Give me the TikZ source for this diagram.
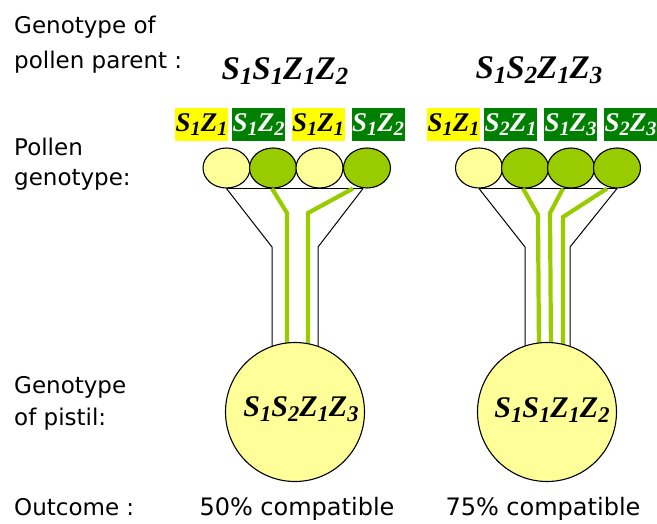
\documentclass[tikz,border=0pt]{standalone}
\usepackage{fontspec}
\setmainfont{DejaVu Sans}
\newfontfamily\genofont{Liberation Serif}
\usetikzlibrary{shapes.geometric}

% genotype symbols: bold italic serif letters with lowered index digits
\newcommand\gsub[1]{\raisebox{-0.35ex}{\scalebox{0.75}{#1}}}
\newcommand\geno[1]{{\genofont\bfseries\itshape #1}}

\definecolor{paleyellow}{HTML}{FFFF99}
\definecolor{limegreen}{HTML}{99CC00}
\definecolor{tagyellow}{HTML}{FFFF00}
\definecolor{taggreen}{HTML}{008000}

\tikzset{
  label/.style={font=\fontsize{23}{23}\selectfont, anchor=base west, inner sep=0pt},
  outcome/.style={font=\fontsize{24}{24}\selectfont, anchor=base, inner sep=0pt},
  parent/.style={font=\fontsize{33}{33}\selectfont, anchor=base, inner sep=0pt},
  allele/.style={minimum width=53pt, minimum height=33pt, inner sep=0pt,
                 font=\fontsize{27}{27}\selectfont},
  ytag/.style={allele, fill=tagyellow, text=black},
  gtag/.style={allele, fill=taggreen, text=white},
  grain/.style={ellipse, draw=black, line width=1.1pt, minimum width=47pt,
                minimum height=40pt, inner sep=0pt},
  ygrain/.style={grain, fill=paleyellow},
  ggrain/.style={grain, fill=limegreen},
  pistil/.style={circle, draw=black, line width=1.1pt, fill=paleyellow,
                 minimum size=139pt, inner sep=0pt},
  funnel/.style={draw=black, line width=1pt},
  tube/.style={draw=limegreen, line width=4.2pt},
  genolabel/.style={font=\fontsize{30}{30}\selectfont, inner sep=0pt}
}

\begin{document}
\begin{tikzpicture}[x=1pt, y=-1pt]
\useasboundingbox (0,0) rectangle (657,523);

% row labels on the left
\node[label] (t1a) at (14,33) {Genotype of};
\node[label] (t1b) at (14,68) {pollen parent :};
\node[label] (t2a) at (14,155) {Pollen};
\node[label] (t2b) at (14,185) {genotype:};
\node[label] (t3a) at (14,393) {Genotype};
\node[label] (t3b) at (14,425) {of pistil:};
\node[label] (t4)  at (14,515) {Outcome :};

% pollen parent genotypes
\node[parent] (ppL) at (285,79) {\geno{S\gsub{1}S\gsub{1}Z\gsub{1}Z\gsub{2}}};
\node[parent] (ppR) at (539,78) {\geno{S\gsub{1}S\gsub{2}Z\gsub{1}Z\gsub{3}}};

% pollen genotype tags
\node[ytag] (aL1) at (201.5,124.5) {\geno{S\gsub{1}Z\gsub{1}}};
\node[gtag] (aL2) at (258.5,124.5) {\geno{S\gsub{1}Z\gsub{2}}};
\node[ytag] (aL3) at (318,124.5)   {\geno{S\gsub{1}Z\gsub{1}}};
\node[gtag] (aL4) at (378,124.5)   {\geno{S\gsub{1}Z\gsub{2}}};
\node[ytag] (aR1) at (453.5,124.5) {\geno{S\gsub{1}Z\gsub{1}}};
\node[gtag] (aR2) at (510.5,124.5) {\geno{S\gsub{2}Z\gsub{1}}};
\node[gtag] (aR3) at (570.5,124.5) {\geno{S\gsub{1}Z\gsub{3}}};
\node[gtag] (aR4) at (630.5,124.5) {\geno{S\gsub{2}Z\gsub{3}}};

% pollen grains
\node[ygrain] (L1) at (226.5,168) {};
\node[ggrain] (L2) at (273,168) {};
\node[ygrain] (L3) at (319.5,168) {};
\node[ggrain] (L4) at (367,168) {};
\node[ygrain] (R1) at (479,168) {};
\node[ggrain] (R2) at (525,168) {};
\node[ggrain] (R3) at (571,168) {};
\node[ggrain] (R4) at (617,168) {};

% style funnels
\draw[funnel] (L1.south) -- ([xshift=-4pt]L4.south);
\draw[funnel] (L1.south) -- (272,247) -- (272,352);
\draw[funnel] ([xshift=-4pt]L4.south) -- (318,247) -- (318,352);
\draw[funnel] (R1.south) -- (R4.south);
\draw[funnel] (R1.south) -- (525,247) -- (525,352);
\draw[funnel] (R4.south) -- (570,247) -- (570,352);

% growing pollen tubes of the compatible grains
\draw[tube] ([xshift=-1pt]L2.south) -- (287,213) -- (287,352);
\draw[tube] ([xshift=-14pt]L4.south) -- (308,213) -- (308,352);
\draw[tube] ([xshift=-2pt]R2.south) -- (538,215) -- (539,352);
\draw[tube] ([xshift=-8pt]R3.south) -- (550,213) -- (551,352);
\draw[tube] ([xshift=-10pt]R4.south) -- (563,217) -- (563,352);

% pistils
\node[pistil] (pL) at (295,412) {};
\node[pistil] (pR) at (547,412) {};
\node[genolabel] (gL) at (301,409) {\geno{S\gsub{1}S\gsub{2}Z\gsub{1}Z\gsub{3}}};
\node[genolabel] (gR) at (552,410) {\geno{S\gsub{1}S\gsub{1}Z\gsub{1}Z\gsub{2}}};

% outcomes
\node[outcome] (oL) at (297,515) {50\% compatible};
\node[outcome] (oR) at (543,515) {75\% compatible};
\end{tikzpicture}
\end{document}
